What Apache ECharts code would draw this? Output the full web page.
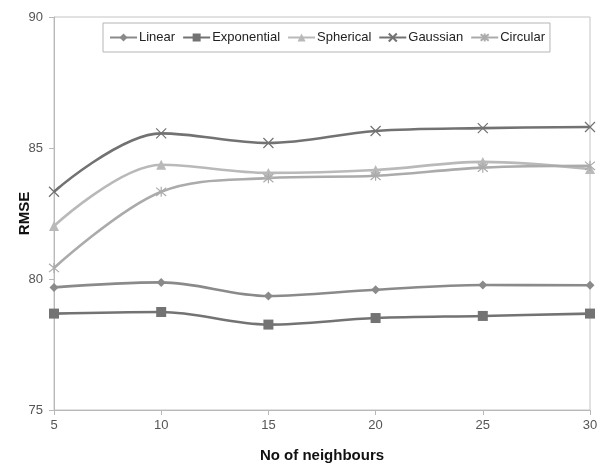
<!DOCTYPE html>
<html>
<head>
<meta charset="utf-8">
<script src="https://cdn.jsdelivr.net/npm/echarts@6/dist/echarts.min.js"></script>
<style>
  html, body { margin: 0; padding: 0; background: #fff; }
  #chart { width: 601px; height: 466px; }
</style>
</head>
<body>
<div id="chart"></div>
<script>
// Number of neighbours on the x axis
const neighbours = [5, 10, 15, 20, 25, 30];

// RMSE for each variogram model
const linear      = [79.68, 79.87, 79.35, 79.59, 79.77, 79.76];
const exponential = [78.68, 78.74, 78.26, 78.51, 78.59, 78.68];
const spherical   = [82.02, 84.36, 84.05, 84.16, 84.47, 84.20];
const gaussian    = [83.33, 85.56, 85.19, 85.65, 85.76, 85.80];
const circular    = [80.42, 83.33, 83.85, 83.94, 84.25, 84.32];

const seriesNames = ['Linear', 'Exponential', 'Spherical', 'Gaussian', 'Circular'];

const crossPath = 'path://M0,0L10,10M0,10L10,0';
const starPath = 'path://M0,0L10,10M0,10L10,0M5,-1L5,11';

function pairs(values) {
  return neighbours.map((n, i) => [n, values[i]]);
}

function lineSeries(name, values, color, symbol, size, hollow) {
  return {
    name: name,
    type: 'line',
    data: pairs(values),
    smooth: 0.35,
    symbol: symbol,
    symbolSize: size,
    color: color,
    lineStyle: { color: color, width: 2.6 },
    itemStyle: hollow
      ? { color: 'rgba(0,0,0,0)', borderColor: color, borderWidth: 1.2 }
      : { color: color, borderWidth: 0 },
    emphasis: { disabled: true },
    z: 2
  };
}

const chart = echarts.init(document.getElementById('chart'), null, { renderer: 'canvas' });

chart.setOption({
  animation: false,
  backgroundColor: '#ffffff',
  textStyle: { fontFamily: 'Liberation Sans, Arial, sans-serif' },
  grid: {
    left: 54, right: 11, top: 17, bottom: 56,
    outerBoundsMode: 'none',
    containLabel: false,
    show: true, borderColor: '#c4c4c4', borderWidth: 1
  },
  legend: {
    data: seriesNames,
    left: 103,
    top: 23,
    padding: [8, 5, 8, 6],
    itemGap: 7,
    itemWidth: 27,
    itemHeight: 10,
    borderColor: '#b5b5b5',
    borderWidth: 1,
    backgroundColor: '#ffffff',
    textStyle: { color: '#222222', fontSize: 13, padding: [0, 0, 0, -3] }
  },
  xAxis: {
    type: 'value',
    min: 5,
    max: 30,
    interval: 5,
    name: 'No of neighbours',
    nameLocation: 'middle',
    nameGap: 38,
    nameTextStyle: { color: '#111111', fontSize: 15, fontWeight: 'bold' },
    axisLine: { show: true, lineStyle: { color: '#b8b8b8', width: 1 } },
    axisTick: { show: true, length: 5, lineStyle: { color: '#b8b8b8' } },
    axisLabel: { color: '#555555', fontSize: 13, margin: 9 },
    splitLine: { show: false }
  },
  yAxis: {
    type: 'value',
    min: 75,
    max: 90,
    interval: 5,
    name: 'RMSE',
    nameLocation: 'middle',
    nameGap: 22,
    nameMoveOverlap: false,
    nameRotate: 90,
    nameTextStyle: { color: '#111111', fontSize: 15, fontWeight: 'bold' },
    axisLine: { show: true, lineStyle: { color: '#b8b8b8', width: 1 } },
    axisTick: { show: true, length: 5, lineStyle: { color: '#b8b8b8' } },
    axisLabel: { color: '#555555', fontSize: 13, margin: 11 },
    splitLine: { show: false }
  },
  series: [
    lineSeries('Linear', linear, '#8a8a8a', 'diamond', 9, false),
    lineSeries('Exponential', exponential, '#737373', 'rect', 10, false),
    lineSeries('Spherical', spherical, '#b9b9b9', 'triangle', 10, false),
    lineSeries('Gaussian', gaussian, '#727272', crossPath, 10, true),
    lineSeries('Circular', circular, '#ababab', starPath, 10, true)
  ]
});
</script>
</body>
</html>
